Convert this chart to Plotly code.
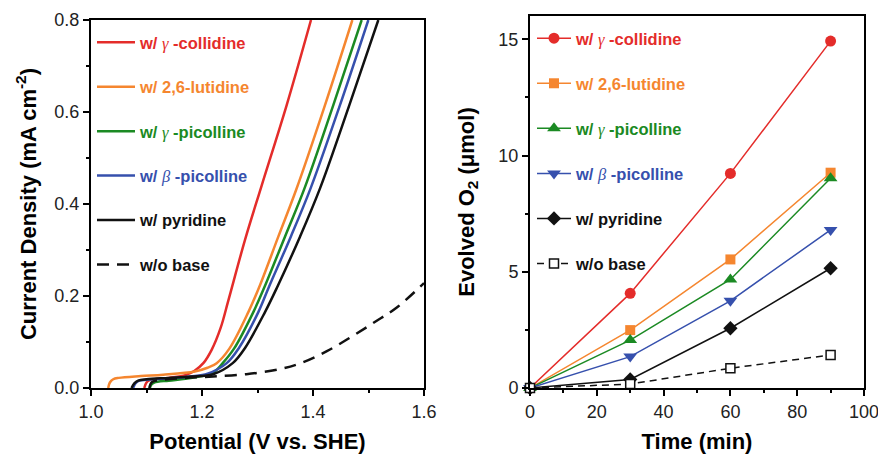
import plotly.graph_objects as go

# ---------------- Linear sweep voltammetry (left panel) ----------------
labels = ["w/ γ-collidine", "w/ 2,6-lutidine", "w/ γ-picolline",
          "w/ β-picolline", "w/ pyridine", "w/o base"]

lsv_v_collidine = [1.096, 1.100, 1.106, 1.14, 1.17, 1.186, 1.2024, 1.2174, 1.2334,
                   1.2474, 1.2775, 1.3075, 1.3526, 1.3964]
lsv_j_collidine = [0.0, 0.012, 0.017, 0.022, 0.028, 0.037, 0.054, 0.083, 0.13,
                   0.19, 0.322, 0.44, 0.615, 0.8]

lsv_v_lutidine = [1.031, 1.034, 1.040, 1.05, 1.09, 1.13, 1.187, 1.21, 1.2264, 1.249,
                  1.2835, 1.305, 1.3375, 1.370, 1.4216, 1.4709]
lsv_j_lutidine = [0.0, 0.012, 0.019, 0.022, 0.026, 0.029, 0.036, 0.044, 0.054, 0.085,
                  0.165, 0.225, 0.329, 0.432, 0.615, 0.8]

lsv_v_gpicoline = [1.106, 1.109, 1.114, 1.14, 1.17, 1.20, 1.22, 1.2373, 1.258,
                   1.2925, 1.311, 1.3495, 1.385, 1.4366, 1.4877]
lsv_j_gpicoline = [0.0, 0.008, 0.012, 0.016, 0.020, 0.026, 0.033, 0.054, 0.086,
                   0.165, 0.215, 0.329, 0.435, 0.615, 0.8]

lsv_v_bpicoline = [1.076, 1.080, 1.087, 1.10, 1.14, 1.18, 1.21, 1.2445, 1.266,
                   1.3015, 1.32, 1.360, 1.396, 1.4486, 1.4997]
lsv_j_bpicoline = [0.0, 0.010, 0.016, 0.018, 0.021, 0.025, 0.031, 0.054, 0.086,
                   0.165, 0.218, 0.329, 0.435, 0.615, 0.8]

lsv_v_pyridine = [1.073, 1.078, 1.085, 1.10, 1.14, 1.18, 1.22, 1.2553, 1.277,
                  1.3135, 1.335, 1.3766, 1.413, 1.4655, 1.5177]
lsv_j_pyridine = [0.0, 0.010, 0.016, 0.019, 0.022, 0.025, 0.030, 0.054, 0.086,
                  0.165, 0.218, 0.329, 0.435, 0.615, 0.8]

lsv_v_nobase = [1.105, 1.11, 1.13, 1.17, 1.22, 1.28, 1.34, 1.38, 1.425, 1.47,
                1.512, 1.551, 1.6]
lsv_j_nobase = [0.0, 0.013, 0.018, 0.022, 0.025, 0.030, 0.041, 0.055, 0.080, 0.112,
                0.144, 0.175, 0.228]

# ---------------- O2 evolution (right panel) ----------------
time_min = [0, 30, 60, 90]
o2_collidine = [0.0, 4.07, 9.23, 14.92]
o2_lutidine = [0.0, 2.49, 5.53, 9.26]
o2_gpicoline = [0.0, 2.06, 4.67, 9.02]
o2_bpicoline = [0.0, 1.35, 3.75, 6.80]
o2_pyridine = [0.0, 0.37, 2.57, 5.15]
o2_nobase = [0.0, 0.17, 0.85, 1.42]

colors = ["#e42c2a", "#f5862f", "#1b8a23", "#3650ad", "#111111", "#111111"]
FONT = "Liberation Sans"
W, H = 878, 454


def legend_label(text, color):
    # Greek letters in italic serif, rest in bold sans
    for g in ("γ", "β"):
        if g in text:
            a, b = text.split(g)
            return (f"<span style='color:{color}'><b>{a}</b>"
                    f"<span style='font-family:Liberation Serif;font-weight:normal'><i>{g}</i></span>"
                    f"<b> {b}</b></span>")
    return f"<span style='color:{color}'><b>{text}</b></span>"


fig = go.Figure()

lsv = [(lsv_v_collidine, lsv_j_collidine), (lsv_v_lutidine, lsv_j_lutidine),
       (lsv_v_gpicoline, lsv_j_gpicoline), (lsv_v_bpicoline, lsv_j_bpicoline),
       (lsv_v_pyridine, lsv_j_pyridine), (lsv_v_nobase, lsv_j_nobase)]
for i, (v, j) in enumerate(lsv):
    fig.add_trace(go.Scatter(
        x=v, y=j, mode="lines", name=legend_label(labels[i], colors[i]),
        line=dict(color=colors[i], width=2.5, shape="spline", smoothing=1.0,
                  dash="12px,8px" if i == 5 else "solid"),
        xaxis="x", yaxis="y", legend="legend", legendgroup=f"a{i}"))

o2 = [o2_collidine, o2_lutidine, o2_gpicoline, o2_bpicoline, o2_pyridine, o2_nobase]
symbols = ["circle", "square", "triangle-up", "triangle-down", "diamond", "square"]
msizes = [11, 10, 12, 12, 11, 9]
for i, vals in enumerate(o2):
    fig.add_trace(go.Scatter(
        x=time_min, y=vals, mode="lines+markers", name=legend_label(labels[i], colors[i]),
        line=dict(color=colors[i], width=1.5, dash="7px,5px" if i == 5 else "solid"),
        marker=dict(symbol=symbols[i], size=msizes[i], color=colors[i] if i < 5 else "white",
                    line=dict(color=colors[i], width=1.5 if i == 5 else 0)),
        cliponaxis=False,
        xaxis="x2", yaxis="y2", legend="legend2", legendgroup=f"b{i}"))

axis_common = dict(showline=True, mirror=True, linecolor="black", linewidth=2,
                   ticks="outside", ticklen=6, tickwidth=1.5, tickcolor="black",
                   showgrid=False, zeroline=False, automargin=False,
                   ticklabeloverflow="allow",
                   tickfont=dict(family=FONT, size=18, color="#222"),
                   title_font=dict(family=FONT, size=22, color="black"))

fig.update_layout(
    width=W, height=H, margin=dict(l=0, r=0, t=0, b=0, autoexpand=False),
    paper_bgcolor="white", plot_bgcolor="white", showlegend=True,
    xaxis=dict(domain=[91 / W, 424 / W], range=[1.0, 1.6], dtick=0.2, tick0=1.0,
               tickformat=".1f", anchor="y",
               minor=dict(dtick=0.1, ticklen=3, ticks="outside", tickcolor="black", tickwidth=1.5),
               title=dict(text="<b>Potential (V vs. SHE)</b>", standoff=14), **axis_common),
    yaxis=dict(domain=[66 / H, 434 / H], range=[0, 0.8], dtick=0.2, tickformat=".1f",
               anchor="x",
               minor=dict(dtick=0.1, ticklen=3, ticks="outside", tickcolor="black", tickwidth=1.5),
               title=dict(text="<b>Current Density (mA cm<sup>-2</sup>)</b>", standoff=12),
               **axis_common),
    xaxis2=dict(domain=[530 / W, 864 / W], range=[0, 100], dtick=20, anchor="y2",
                minor=dict(dtick=10, ticklen=3, ticks="outside", tickcolor="black", tickwidth=1.5),
                title=dict(text="<b>Time (min)</b>", standoff=14), **axis_common),
    yaxis2=dict(domain=[66 / H, 438 / H], range=[0, 16], tickvals=[0, 5, 10, 15], anchor="x2",
                minor=dict(tickvals=[2.5, 7.5, 12.5], ticklen=3, ticks="outside",
                           tickcolor="black", tickwidth=1.5),
                title=dict(text="<b>Evolved O<sub>2</sub> (μmol)</b>", standoff=18),
                **axis_common),
    legend=dict(x=92 / W, y=1 - 25 / H, xanchor="left", yanchor="top", itemwidth=38,
                bgcolor="rgba(0,0,0,0)", tracegroupgap=20,
                font=dict(family=FONT, size=16.5, color="black")),
    legend2=dict(x=532 / W, y=1 - 21 / H, xanchor="left", yanchor="top", itemwidth=34,
                 bgcolor="rgba(0,0,0,0)", tracegroupgap=20.6,
                 font=dict(family=FONT, size=16.5, color="black")),
)

fig.write_html("out.html")
